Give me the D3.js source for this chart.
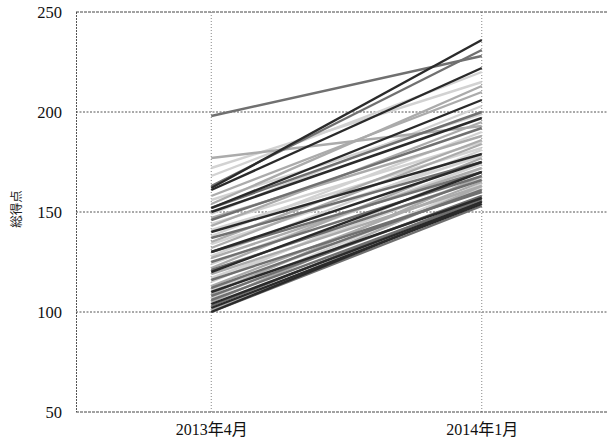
<!DOCTYPE html>
<html><head><meta charset="utf-8">
<script src="https://cdn.jsdelivr.net/npm/d3@7"></script>
<style>
html,body{margin:0;padding:0;background:#fff;}
svg{display:block;}
</style></head>
<body>
<script>
const periods = ["2013年4月", "2014年1月"];
const yTicks = [50, 100, 150, 200, 250];
const yLabel = "総得点";
const scoreApr2013 = [198,177,172,168,163,162,161,158,156,154,152,152,150,149,147,146,144,143,141,140,138,137,135,134,132,130,130,128,127,125,124,122,121,120,119,117,116,115,113,112,111,110,109,108,107,106,105,104,103,102,101,100,100];
const scoreJan2014 = [228,193,215,220,231,236,222,210,199,213,206,200,197,203,188,192,185,195,182,179,190,175,186,178,184,175,170,181,172,168,174,177,166,170,163,167,160,172,165,161,162,157,168,158,164,156,163,155,157,154,156,155,153];

// style only: tone per line (0 dark .. 3 pale)
const lineTone = [1,2,3,3,1,0,0,2,3,2,0,1,0,3,2,1,3,2,3,0,3,1,2,3,2,0,1,3,2,1,3,2,1,0,2,3,1,3,2,1,3,0,2,1,3,1,2,0,1,0,2,0,1];
const toneColors = ["#2a2a2a", "#707070", "#ababab", "#d2d2d2"];

const W = 608, H = 446;
const svg = d3.select("body").append("svg").attr("width", W).attr("height", H);

const x = d3.scalePoint().domain(periods).range([76, 617]).padding(0.5);
const y = d3.scaleLinear().domain([50, 250]).range([412, 12]);

const g = svg.append("g");

// gridlines
g.selectAll("line.hg").data(yTicks.filter(t => t !== 50 && t !== 250)).join("line")
  .attr("x1", 76).attr("x2", W).attr("y1", d => y(d)).attr("y2", d => y(d))
  .attr("stroke", "#555").attr("stroke-width", 1).attr("stroke-dasharray", "2,1.5");
g.selectAll("line.vg").data(periods).join("line")
  .attr("x1", d => x(d)).attr("x2", d => x(d)).attr("y1", 12).attr("y2", 412)
  .attr("stroke", "#888").attr("stroke-width", 1).attr("stroke-dasharray", "1,2");

// frame (left, top, bottom)
g.append("line").attr("x1", 76.5).attr("x2", 76.5).attr("y1", 12).attr("y2", 412)
  .attr("stroke", "#555").attr("stroke-dasharray", "2,1");
g.append("line").attr("x1", 76).attr("x2", W).attr("y1", 12).attr("y2", 12)
  .attr("stroke", "#444").attr("stroke-dasharray", "3,1");
g.append("line").attr("x1", 76).attr("x2", W).attr("y1", 412).attr("y2", 412)
  .attr("stroke", "#444").attr("stroke-dasharray", "3,1");

// lines
const students = scoreApr2013.map((v, i) => ({a: v, b: scoreJan2014[i], tone: lineTone[i]}));
students.sort((p, q) => q.tone - p.tone);
g.selectAll("line.s").data(students).join("line")
  .attr("x1", x(periods[0])).attr("x2", x(periods[1]))
  .attr("y1", d => y(d.a)).attr("y2", d => y(d.b))
  .attr("stroke", d => toneColors[d.tone])
  .attr("stroke-width", 2.4).attr("stroke-linecap", "butt");

// y axis labels
const yAxis = d3.axisLeft(y).tickValues(yTicks).tickSize(0).tickPadding(0);
const ya = svg.append("g").attr("transform", "translate(62,0)").call(yAxis);
ya.select(".domain").remove();
ya.selectAll("text").attr("font-family", "'Liberation Serif', 'DejaVu Serif', serif")
  .attr("font-size", 16.5).attr("fill", "#111").attr("dy", "0.35em");

// x axis labels
const xAxis = d3.axisBottom(x).tickSize(0).tickPadding(0);
const xa = svg.append("g").attr("transform", "translate(0,424)").call(xAxis);
xa.select(".domain").remove();
xa.selectAll("text").attr("font-family", "'Liberation Serif', 'Noto Sans CJK JP', serif")
  .attr("font-size", 16).attr("fill", "#111").attr("dy", "0.71em");

// y label
svg.append("text").attr("transform", "translate(17,209) rotate(-90)")
  .attr("text-anchor", "middle").attr("dy", "0.35em")
  .attr("font-family", "'Noto Sans CJK JP', sans-serif").attr("font-size", 12.5)
  .attr("fill", "#222").text(yLabel);
</script>
</body></html>
